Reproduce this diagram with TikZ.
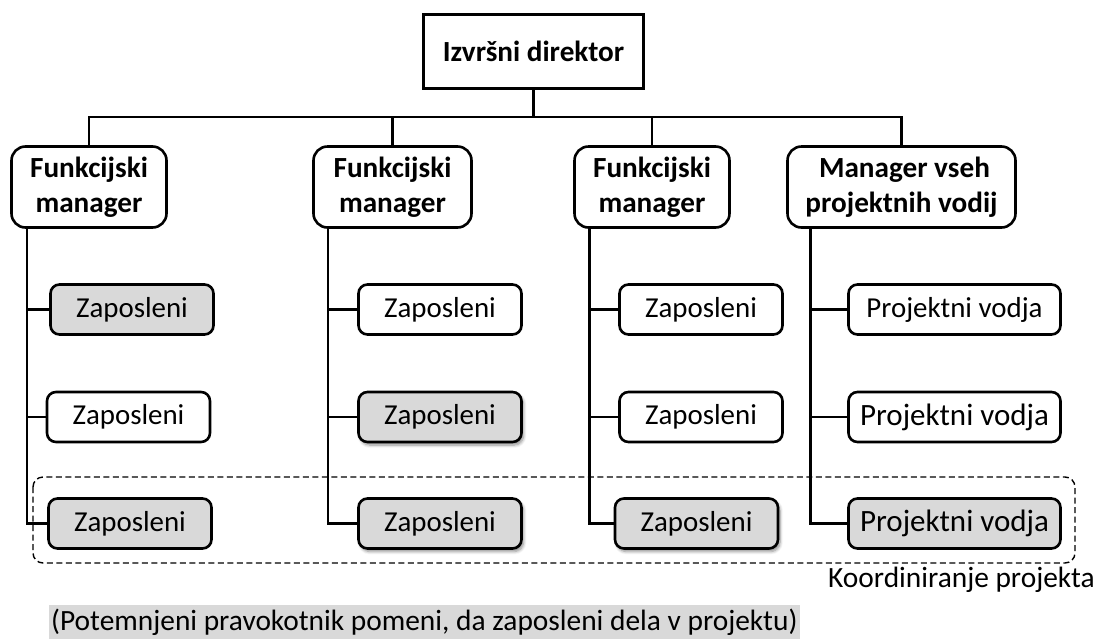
\documentclass[tikz,border=0pt]{standalone}
\usepackage{fontspec}
\setmainfont{Carlito}
\usetikzlibrary{shadows.blur}
\definecolor{grayfill}{HTML}{D9D9D9}
\begin{document}
\begin{tikzpicture}[x=1pt,y=-1pt,
  conn/.style={line width=2.6pt},
  ceobox/.style={draw, line width=2.6pt, minimum width=220pt, minimum height=74pt, inner sep=0pt, font=\bfseries\fontsize{29.2}{35}\selectfont},
  mgrbox/.style={draw, line width=2.6pt, rounded corners=14pt, minimum height=81pt, inner sep=0pt, align=center, fill=white, font=\bfseries\fontsize{29.2}{35}\selectfont},
  empbox/.style={draw, line width=2.6pt, rounded corners=9pt, minimum width=163pt, minimum height=50pt, inner sep=0pt, fill=white, font=\fontsize{28.9}{35}\selectfont},
  pvbox/.style={empbox, minimum width=212pt},
  inproj/.style={fill=grayfill},
  shd/.style={blur shadow={shadow xshift=2pt, shadow yshift=-3pt, shadow blur steps=6, shadow blur radius=3pt, shadow opacity=45}},
  projframe/.style={draw, dashed, dash pattern=on 6pt off 3.5pt, line width=1.4pt, rounded corners=10pt},
  note/.style={font=\fontsize{29.4}{35}\selectfont, inner sep=0pt}
]
\useasboundingbox (0,0) rectangle (1100,638);
% project frame
\draw[projframe] (33,477) rectangle (1075,563);
% top
\node[ceobox] (ceo) at (533.5,51.5) {Izvršni direktor};
\node[mgrbox, minimum width=155pt] (m1) at (89,187) {Funkcijski\\manager};
\node[mgrbox, minimum width=158pt] (m2) at (392.5,187) {Funkcijski\\manager};
\node[mgrbox, minimum width=155pt] (m3) at (652,187) {Funkcijski\\manager};
\node[mgrbox, minimum width=228pt] (m4) at (901.5,187) {\hspace*{6pt}Manager vseh\\projektnih vodij};
\coordinate (bus) at (0,117);
\draw[conn] (ceo.south) -- (ceo.south |- bus);
\draw[conn] (m1.north) |- (m4.north |- bus) -- (m4.north);
\draw[conn] (m2.north) -- (m2.north |- bus);
\draw[conn] (m3.north) -- (m3.north |- bus);
% spines
\coordinate (s1) at (27,229);
\coordinate (s2) at (328,229);
\coordinate (s3) at (589.5,229);
\coordinate (s4) at (810.5,229);
% column 1
\node[empbox, inproj] (c11) at (132,309.5) {Zaposleni};
\node[empbox] (c12) at (128.5,417) {Zaposleni};
\node[empbox, inproj] (c13) at (130,523.5) {Zaposleni};
% column 2
\node[empbox] (c21) at (440,309.5) {Zaposleni};
\node[empbox, inproj, shd] (c22) at (440,417) {Zaposleni};
\node[empbox, inproj, shd] (c23) at (440,523.5) {Zaposleni};
% column 3
\node[empbox] (c31) at (701,309.5) {Zaposleni};
\node[empbox] (c32) at (701,417) {Zaposleni};
\node[empbox, inproj, shd] (c33) at (696.5,523.5) {Zaposleni};
% column 4
\node[pvbox] (c41) at (954.5,309.5) {Projektni vodja};
\node[pvbox, font=\fontsize{31}{36}\selectfont] (c42) at (954.5,417) {Projektni vodja};
\node[pvbox, inproj, font=\fontsize{31}{36}\selectfont] (c43) at (954.5,523.5) {Projektni vodja};
% connectors
\draw[conn] (s1) |- (c13.west);
\draw[conn] (c11.west) -- (s1 |- c11.west);
\draw[conn] (c12.west) -- (s1 |- c12.west);
\draw[conn] (s2) |- (c23.west);
\draw[conn] (c21.west) -- (s2 |- c21.west);
\draw[conn] (c22.west) -- (s2 |- c22.west);
\draw[conn] (s3) |- (c33.west);
\draw[conn] (c31.west) -- (s3 |- c31.west);
\draw[conn] (c32.west) -- (s3 |- c32.west);
\draw[conn] (s4) |- (c43.west);
\draw[conn] (c41.west) -- (s4 |- c41.west);
\draw[conn] (c42.west) -- (s4 |- c42.west);
% notes
\node[note, anchor=east] (coord) at (1095,580) {Koordiniranje projekta};
\node[note, fill=grayfill, inner xsep=2pt, inner ysep=4pt, anchor=west] (legend) at (49,622) {(Potemnjeni pravokotnik pomeni, da zaposleni dela v projektu)};
\end{tikzpicture}
\end{document}
